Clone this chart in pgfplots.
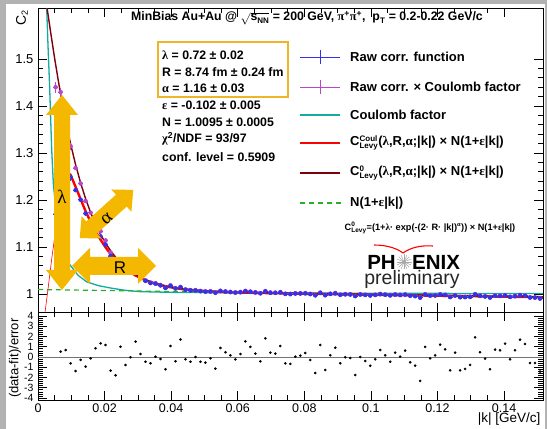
\documentclass[border=0pt]{standalone}
\usepackage{pgfplots}
\pgfplotsset{compat=1.18}
\usepackage{pgfplotstable}
\usepackage{fontspec}
\setmainfont{Liberation Sans}
\newfontfamily\sym{Liberation Serif}
\definecolor{rawblue}{RGB}{50,50,230}
\definecolor{rawpurple}{RGB}{185,70,200}
\definecolor{coulteal}{RGB}{20,170,160}
\definecolor{levyred}{RGB}{255,0,0}
\definecolor{levybrown}{RGB}{125,0,15}
\definecolor{nlgreen}{RGB}{40,175,40}
\definecolor{arrowyel}{RGB}{245,184,0}
\definecolor{boxyel}{RGB}{240,180,40}

\pgfplotstableread{
k res P B e
0.0053 nan 1.4400 1.1700 0.012
0.0068 0.52 1.4297 1.2162 0.008
0.0083 0.68 1.3746 1.2584 0.008
0.0098 -0.62 1.3142 1.2482 0.008
0.0113 -1.37 1.2682 1.2210 0.005
0.0128 -0.29 1.2351 1.2005 0.005
0.0143 -0.94 1.1979 1.1714 0.005
0.0158 -0.13 1.1730 1.1531 0.005
0.0173 0.85 1.1526 1.1377 0.005
0.0188 1.33 1.1334 1.1221 0.005
0.0203 1.17 1.1139 1.1050 0.005
0.0218 -1.33 1.0881 1.0810 0.003
0.0233 -1.79 1.0731 1.0677 0.003
0.0248 1.00 1.0698 1.0655 0.003
0.0263 -0.78 1.0548 1.0513 0.003
0.0278 -0.03 1.0486 1.0458 0.003
0.0293 1.50 1.0462 1.0439 0.003
0.0308 0.29 1.0366 1.0347 0.003
0.0323 -0.46 1.0293 1.0278 0.003
0.0338 -0.62 1.0245 1.0232 0.003
0.0353 0.03 1.0230 1.0219 0.003
0.0368 -0.20 1.0192 1.0182 0.003
0.0383 -1.20 1.0137 1.0128 0.003
0.0398 1.07 1.0183 1.0175 0.003
0.0413 -0.42 1.0125 1.0117 0.0015
0.0428 1.70 1.0151 1.0143 0.0015
0.0443 -0.23 1.0098 1.0090 0.0015
0.0458 -0.46 1.0084 1.0076 0.0015
0.0473 0.00 1.0083 1.0075 0.0015
0.0488 -0.46 1.0066 1.0058 0.0015
0.0503 -0.55 1.0057 1.0049 0.0015
0.0518 -0.13 1.0059 1.0051 0.0015
0.0533 -1.14 1.0033 1.0025 0.0015
0.0548 0.88 1.0070 1.0062 0.0015
0.0563 0.46 1.0057 1.0049 0.0015
0.0578 0.16 1.0047 1.0039 0.0015
0.0593 -0.23 1.0036 1.0028 0.0015
0.0608 0.29 1.0044 1.0036 0.0015
0.0623 1.53 1.0067 1.0059 0.0015
0.0638 0.98 1.0053 1.0045 0.0015
0.0653 0.33 1.0039 1.0031 0.0015
0.0668 -0.42 1.0021 1.0013 0.0015
0.0683 1.82 1.0063 1.0055 0.0015
0.0698 0.42 1.0033 1.0025 0.0015
0.0713 0.33 1.0031 1.0023 0.0015
0.0728 1.07 1.0042 1.0034 0.0015
0.0743 -0.62 1.0008 1.0000 0.0015
0.0758 -0.68 1.0004 0.9996 0.0015
0.0773 0.03 1.0017 1.0009 0.0015
0.0788 0.13 1.0017 1.0009 0.0015
0.0803 0.39 1.0020 1.0012 0.0015
0.0818 -0.29 1.0005 0.9997 0.0015
0.0833 -1.56 0.9978 0.9970 0.0015
0.0848 1.17 1.0031 1.0023 0.0015
0.0863 -1.27 0.9981 0.9973 0.0015
0.0878 0.16 1.0008 1.0000 0.0015
0.0893 0.91 1.0021 1.0013 0.0015
0.0908 -0.62 0.9989 0.9981 0.0015
0.0923 -0.03 0.9999 0.9991 0.0015
0.0938 -0.10 0.9996 0.9988 0.0015
0.0953 -1.76 0.9962 0.9954 0.0015
0.0968 0.00 0.9995 0.9987 0.0015
0.0983 -0.39 0.9986 0.9978 0.0015
0.0998 -0.85 0.9975 0.9967 0.0015
0.1013 -0.23 0.9986 0.9978 0.0015
0.1028 0.68 1.0003 0.9995 0.0015
0.1043 0.16 0.9991 0.9983 0.0015
0.1058 -0.46 0.9977 0.9969 0.0015
0.1073 0.42 0.9993 0.9985 0.0015
0.1088 0.03 0.9984 0.9976 0.0015
0.1103 0.62 0.9993 0.9985 0.0015
0.1118 -0.52 0.9970 0.9962 0.0015
0.1133 -0.85 0.9961 0.9953 0.0015
0.1148 -2.34 0.9930 0.9922 0.0015
0.1163 0.98 0.9995 0.9987 0.0015
0.1178 -0.13 0.9971 0.9963 0.0015
0.1193 0.16 0.9975 0.9967 0.0015
0.1208 1.20 0.9995 0.9987 0.0015
0.1223 0.75 0.9984 0.9976 0.0015
0.1238 -1.30 0.9942 0.9934 0.0015
0.1253 0.42 0.9974 0.9966 0.0015
0.1268 -1.30 0.9938 0.9930 0.0015
0.1283 -1.17 0.9940 0.9932 0.0015
0.1298 -0.78 0.9945 0.9937 0.0015
0.1313 1.92 0.9998 0.9990 0.0015
0.1328 0.46 0.9967 0.9959 0.0015
0.1343 -0.16 0.9954 0.9946 0.0015
0.1358 -1.20 0.9931 0.9923 0.0015
0.1373 0.72 0.9968 0.9960 0.0015
0.1388 0.65 0.9965 0.9957 0.0015
0.1403 1.30 0.9976 0.9968 0.0015
0.1418 -0.23 0.9944 0.9936 0.0015
0.1433 0.65 0.9960 0.9952 0.0015
0.1448 1.69 0.9980 0.9972 0.0015
0.1463 1.27 0.9969 0.9961 0.0015
0.1478 -0.59 0.9931 0.9923 0.0015
0.1493 -0.59 0.9929 0.9921 0.0015
0.1508 -1.43 0.9911 0.9903 0.0015
}\pts

\newcommand{\dblarrow}[4]{%
  \fill[arrowyel] (-#1,0) -- (-#1+#4,#3) -- (-#1+#4,#2) -- (#1-#4,#2) -- (#1-#4,#3) -- (#1,0)
   -- (#1-#4,-#3) -- (#1-#4,-#2) -- (-#1+#4,-#2) -- (-#1+#4,-#3) -- cycle;}
\newcommand{\supsub}[2]{$^{\mbox{\fontsize{8}{8}\selectfont\bfseries #1}}_{\mbox{\fontsize{8}{8}\selectfont\bfseries #2}}$}
\newcommand{\supsubs}[2]{$^{\mbox{\fontsize{6.5}{6.5}\selectfont\bfseries #1}}_{\mbox{\fontsize{6.5}{6.5}\selectfont\bfseries #2}}$}

\begin{document}
\begin{tikzpicture}[x=1pt,y=1pt]
\fill[black!30] (0,0) rectangle (547,429);
\fill[white] (6,0) rectangle (545,425);

% ---------- top panel ----------
\begin{axis}[at={(38pt,117pt)}, anchor=south west, width=505pt, height=304pt, scale only axis,
  xmin=0, xmax=0.1517, ymin=0.9617, ymax=1.6085,
  xtick={0,0.02,0.04,0.06,0.08,0.1,0.12,0.14}, xticklabels={},
  minor x tick num=3,
  ytick={1,1.1,1.2,1.3,1.4,1.5}, yticklabels={1,1.1,1.2,1.3,1.4,1.5},
  minor y tick num=4,
  tick align=inside, major tick length=9pt, minor tick length=5pt,
  tick style={black, line width=0.6pt}, axis line style={line width=0.8pt},
  yticklabel style={font=\fontsize{13}{13}\selectfont, xshift=-1pt},
  /pgf/number format/assume math mode=true]
\addplot[coulteal, line width=1.3pt] coordinates {(0.0024,1.66)(0.0026,1.61)(0.003,1.53)(0.0035,1.44)(0.0041,1.31)(0.0046,1.236)(0.0055,1.17)(0.0065,1.125)(0.0075,1.095)(0.0085,1.075)(0.0096,1.062)(0.012,1.04)(0.0146,1.026)(0.018,1.018)(0.0216,1.013)(0.026,1.008)(0.0306,1.005)(0.04,1.0035)(0.06,1.0025)(0.1,1.0015)(0.1517,1.001)};
\addplot[nlgreen, line width=1.2pt, dash pattern=on 5pt off 4pt] coordinates {(0,1.0095)(0.1517,0.9939)};
\addplot[levyred, line width=0.6pt] coordinates {(0.0017,0.93)(0.002,0.955)(0.003,1.01)(0.0042,1.079)(0.005,1.12)(0.006,1.165)(0.007,1.205)};
\addplot[levyred, line width=2.4pt] coordinates {(0.007,1.205)(0.008,1.238)(0.0086,1.250)(0.0091,1.255)(0.0095,1.2550)(0.0098,1.2532)(0.0113,1.2278)(0.0128,1.2019)(0.0143,1.1761)(0.0158,1.1537)(0.0173,1.1334)(0.0188,1.1154)(0.0203,1.0991)(0.0218,1.0850)(0.0233,1.0731)(0.0248,1.0625)(0.0263,1.0536)(0.0278,1.0459)(0.0293,1.0394)(0.0308,1.0338)(0.0323,1.0292)(0.0338,1.0251)(0.0353,1.0218)(0.0368,1.0188)(0.0383,1.0164)(0.0398,1.0143)(0.0428,1.0109)(0.0458,1.0085)(0.0488,1.0067)(0.0518,1.0054)(0.0548,1.0044)(0.0578,1.0036)(0.0608,1.0030)(0.07,1.0018)(0.08,1.0005)(0.09,0.9995)(0.10,0.9984)(0.12,0.9963)(0.14,0.9943)(0.1517,0.9931)};
\addplot[levybrown, line width=1.4pt] coordinates {(0.002,1.6447)(0.003,1.5953)(0.004,1.5473)(0.005,1.5014)(0.006,1.4582)(0.0068,1.4255)(0.0083,1.3692)(0.0098,1.3192)(0.0113,1.2750)(0.0128,1.2365)(0.0143,1.2026)(0.0158,1.1736)(0.0173,1.1483)(0.0188,1.1267)(0.0203,1.1080)(0.0218,1.0921)(0.0233,1.0785)(0.0248,1.0668)(0.0263,1.0571)(0.0278,1.0487)(0.0293,1.0417)(0.0308,1.0357)(0.0323,1.0307)(0.0338,1.0264)(0.0353,1.0229)(0.0368,1.0198)(0.0383,1.0173)(0.0398,1.0151)(0.0428,1.0117)(0.0458,1.0093)(0.0488,1.0075)(0.0518,1.0062)(0.0548,1.0052)(0.0578,1.0044)(0.0608,1.0038)(0.07,1.0025)(0.08,1.0013)(0.09,1.0003)(0.10,0.9992)(0.12,0.9971)(0.14,0.9951)(0.1517,0.9939)};
\addplot[rawpurple, only marks, mark=none,
  error bars/.cd, x dir=both, x fixed=0.00075, y dir=both, y explicit, error mark=none,
  error bar style={rawpurple, line width=0.7pt}] table[x=k, y=P, y error=e] {\pts};
\addplot[rawblue, only marks, mark=none,
  error bars/.cd, x dir=both, x fixed=0.00075, y dir=both, y explicit, error mark=none,
  error bar style={rawblue, line width=0.7pt}] table[x=k, y=B, y error=e] {\pts};
\end{axis}

% ---------- bottom panel ----------
\begin{axis}[at={(38pt,29pt)}, anchor=south west, width=505pt, height=88pt, scale only axis,
  xmin=0, xmax=0.1517, ymin=-4.2, ymax=4.39,
  xtick={0,0.02,0.04,0.06,0.08,0.1,0.12,0.14}, xticklabels={0,0.02,0.04,0.06,0.08,0.1,0.12,0.14},
  minor x tick num=3,
  ytick={-4,-3,-2,-1,0,1,2,3,4}, yticklabels={-4,-3,-2,-1,0,1,2,3,4},
  minor y tick num=4,
  tick align=inside, major tick length=9pt, minor tick length=5pt,
  tick style={black, line width=0.6pt}, axis line style={line width=0.8pt},
  yticklabel style={font=\fontsize{10.5}{10.5}\selectfont, xshift=-1pt},
  xticklabel style={font=\fontsize{12.5}{13}\selectfont},
  /pgf/number format/assume math mode=true]
\addplot[black!55, line width=0.8pt] coordinates {(0,0)(0.1517,0)};
\addplot[black, only marks, mark=*, mark size=1.1pt] table[x=k, y=res] {\pts};
\end{axis}

% ---------- axis titles ----------
\node[rotate=90, font=\fontsize{14}{14}\selectfont] at (22,411) {C$_{\mbox{\fontsize{9}{9}\selectfont 2}}$};
\node[rotate=90, anchor=east, font=\fontsize{13}{13}\selectfont] at (15,114) {(data-fit)/error};
\node[anchor=east, font=\fontsize{13.5}{14}\selectfont] at (544,10) {|k| [GeV/c]};

% ---------- title ----------
\node[font=\fontsize{12.3}{13}\selectfont\bfseries] at (307,411)
  {MinBias Au+Au @ $\sqrt{\mbox{\bfseries s\supsub{}{NN}}}$ = 200 GeV, {\sym π}\textsuperscript{+}{\sym π}\textsuperscript{+},\ \ p\supsub{}{T} = 0.2-0.22 GeV/c};

% ---------- parameter box ----------
\draw[boxyel, line width=1.5pt] (158,387) rectangle (288,332);
\begin{scope}[every node/.style={anchor=west, font=\fontsize{12.3}{13}\selectfont\bfseries, inner sep=0pt}]
\node at (162,374) {{\sym λ} = 0.72 ± 0.02};
\node at (162,357) {R = 8.74 fm ± 0.24 fm};
\node at (162,341) {{\sym α} = 1.16 ± 0.03};
\node at (162,324) {{\sym ε} = -0.102 ± 0.005};
\node at (162,307) {N = 1.0095 ± 0.0005};
\node at (162,290) {{\sym χ}\textsuperscript{2}/NDF = 93/97};
\node at (162,272) {conf. level = 0.5909};
\end{scope}

% ---------- legend ----------
\draw[rawblue, line width=0.9pt] (300,372) -- (340,372); \draw[rawblue, line width=0.9pt] (320,365) -- (320,379);
\draw[rawpurple, line width=0.9pt] (300,342) -- (340,342); \draw[rawpurple, line width=0.9pt] (320,335) -- (320,349);
\draw[coulteal, line width=1.3pt] (300,314) -- (340,314);
\draw[levyred, line width=2.4pt] (300,286) -- (340,286);
\draw[levybrown, line width=1.4pt] (300,256) -- (340,256);
\draw[nlgreen, line width=1.2pt, dash pattern=on 5pt off 4pt] (300,226) -- (341,226);
\begin{scope}[every node/.style={anchor=west, font=\fontsize{13}{14}\selectfont\bfseries, inner sep=0pt}]
\node at (350,372) {Raw corr. function};
\node at (350,342) {Raw corr. × Coulomb factor};
\node at (350,314) {Coulomb factor};
\node at (350,286) {C\supsub{Coul}{Levy}({\sym λ},R,{\sym α};|k|) × N(1+{\sym ε}|k|)};
\node at (350,256) {C\supsub{0}{Levy}({\sym λ},R,{\sym α};|k|) × N(1+{\sym ε}|k|)};
\node at (350,226) {N(1+{\sym ε}|k|)};
\end{scope}
\node[font=\fontsize{9.2}{10}\selectfont\bfseries] at (430,201)
  {C\supsubs{0}{Levy}=(1+{\sym λ}· exp(-(2· R· |k|)\textsuperscript{\sym α})) × N(1+{\sym ε}|k|)};

% ---------- PHENIX logo ----------
\draw[levyred, line width=1.1pt] (374,184) .. controls (388,184) and (398,180) .. (403,176)
  .. controls (410,181) and (420,184) .. (433,183);
\node[anchor=east, inner sep=0pt, font=\fontsize{20.5}{21}\selectfont\bfseries] at (396,167) {PH};
\node[anchor=west, inner sep=0pt, font=\fontsize{20.5}{21}\selectfont\bfseries] at (412,167) {ENIX};
\foreach \a in {0,22.5,...,337.5} \draw[black!35, line width=0.5pt] (404,167) -- ++(\a:7.5);
\node[font=\fontsize{19.5}{20}\selectfont, text=black!85] at (412,150) {preliminary};

% ---------- annotation arrows ----------
\begin{scope}[shift={(62,236.5)}, rotate=90] \dblarrow{97.5}{8}{16}{20} \end{scope}
\begin{scope}[shift={(106.5,215)}, rotate=42] \dblarrow{36}{8}{15}{16} \end{scope}
\begin{scope}[shift={(114,163)}] \dblarrow{42}{9}{18}{18} \end{scope}
\node[font=\fontsize{19}{19}\selectfont\sym] at (62,232) {λ};
\node[rotate=42, font=\fontsize{19}{19}\selectfont\sym] at (107,210) {α};
\node[font=\fontsize{17}{17}\selectfont] at (120,161) {R};
\end{tikzpicture}
\end{document}
